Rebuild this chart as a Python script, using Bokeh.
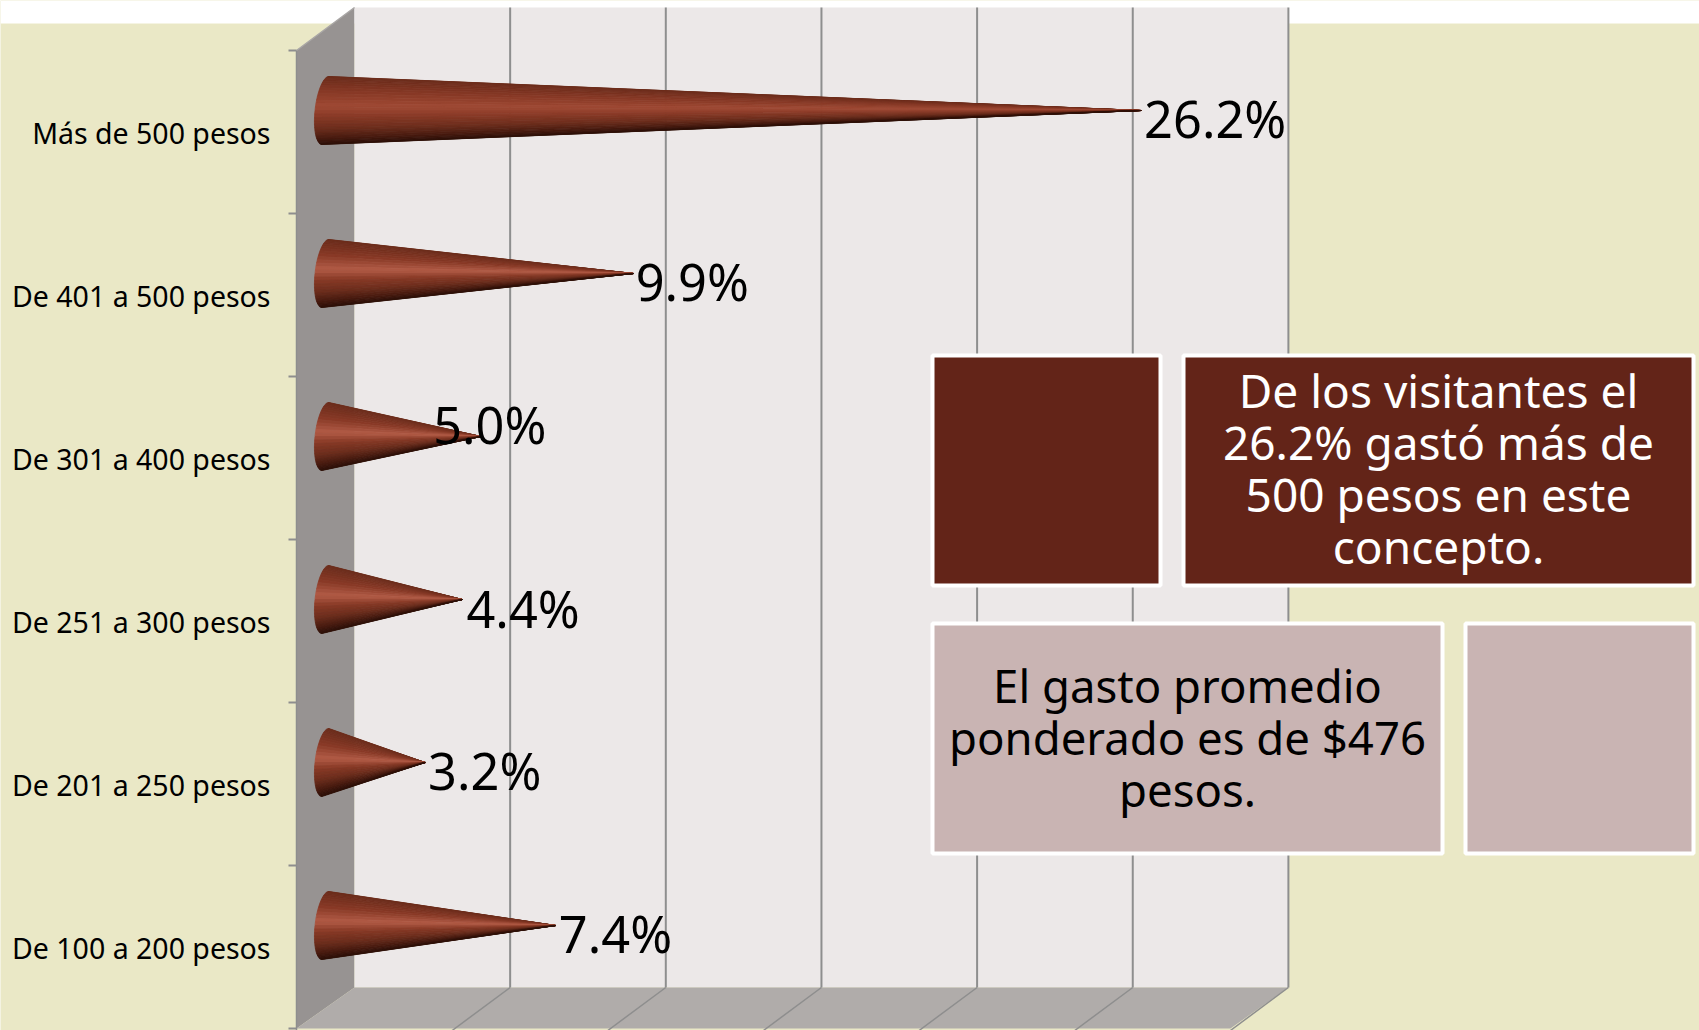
from bokeh.plotting import figure, ColumnDataSource
from bokeh.models import Range1d
from bokeh.core.properties import value
from bokeh.embed import file_html
from bokeh.resources import INLINE
import numpy as np

# ---- data ----
categories = ["De 100 a 200 pesos", "De 201 a 250 pesos", "De 251 a 300 pesos",
              "De 301 a 400 pesos", "De 401 a 500 pesos", "Más de 500 pesos"]
percent = [7.4, 3.2, 4.4, 5.0, 9.9, 26.2]
value_labels = ["7.4%", "3.2%", "4.4%", "5.0%", "9.9%", "26.2%"]
box_dark_lines = ["De los visitantes el", "26.2% gastó más de", "500 pesos en este", "concepto."]
box_light_lines = ["El gasto promedio", "ponderado es de $476", "pesos."]
grid_values = [0, 5, 10, 15, 20, 25, 30]

# ---- layout (page pixels) ----
W, H = 1699, 1030
PX_PER_UNIT = 31.13      # horizontal pixels per percentage point
ZERO_PX = 325            # x of 0 % at mid depth
CAT_PX = 163             # category band height
AXIS_BOTTOM_PX = 1028
DEPTH_X, DEPTH_Y = 58, 41

x0 = -ZERO_PX / PX_PER_UNIT
y0 = (AXIS_BOTTOM_PX - H) / CAT_PX

def X(px):
    return np.asarray(px, float) / PX_PER_UNIT + x0
def Y(py):
    return (AXIS_BOTTOM_PX - np.asarray(py, float)) / CAT_PX

p = figure(width=W, height=H, output_backend="svg", toolbar_location=None,
           x_range=Range1d(x0, x0 + W / PX_PER_UNIT), y_range=Range1d(y0, y0 + H / CAT_PX),
           x_axis_type=None, y_axis_type=None, min_border=0, outline_line_color=None,
           background_fill_color="#eae8c6", border_fill_color="#eae8c6",
           margin=(0, 0, 0, 0))
p.grid.visible = False

def rect(l, t, r, b, fill, line=None, lw=0):
    p.patch(X([l, r, r, l]), Y([t, t, b, b]), fill_color=fill, line_color=line, line_width=lw)

FONT = value("Noto Sans")

# white band on top
rect(0, 0, W, 23, "#ffffff")

# 3D walls
back_l_px = ZERO_PX + DEPTH_X / 2
front_l_px = back_l_px - DEPTH_X
wall_top, wall_bot = 7, 987
back_r_px = ZERO_PX + 30 * PX_PER_UNIT + DEPTH_X / 2
p.patch(X([front_l_px, back_l_px, back_l_px, front_l_px]), Y([50, wall_top, wall_bot, AXIS_BOTTOM_PX]),
        fill_color="#979392", line_color=None)
rect(back_l_px, wall_top, back_r_px, wall_bot, "#ece8e8")
p.patch(X([front_l_px, back_l_px, back_r_px, back_r_px - DEPTH_X]),
        Y([AXIS_BOTTOM_PX, wall_bot, wall_bot, AXIS_BOTTOM_PX]),
        fill_color="#b0acaa", line_color=None)

# gridlines on back wall + floor
GRID = "#8e8e8e"
for g in grid_values:
    gx = (g - x0) * PX_PER_UNIT + DEPTH_X / 2
    if g:
        p.line(X([gx, gx]), Y([wall_top, wall_bot]), line_color=GRID, line_width=2)
        p.line(X([gx, gx - DEPTH_X]), Y([wall_bot, AXIS_BOTTOM_PX + 2]), line_color=GRID, line_width=1.5)

# left edge of the side wall & category ticks
p.line(X([front_l_px, front_l_px]), Y([50, H]), line_color=GRID, line_width=1.5)
p.line(X([front_l_px, back_l_px]), Y([50, wall_top]), line_color="#a9a6a5", line_width=1.5)
for i in range(len(categories) + 1):
    p.line(X([front_l_px - 8, front_l_px]), [i, i], line_color=GRID, line_width=2)

# category labels
p.text(X([270] * len(categories)), [i + 0.5 for i in range(len(categories))], text=categories,
       text_font=FONT, text_font_size="28.5px", text_color="#000000",
       text_align="right", text_baseline="middle", y_offset=1)

# cones
STOPS_T = [-1.0, -0.55, -0.12, 0.2, 0.55, 0.85, 1.0]
def hexrgb(h):
    return np.array([int(h[i:i + 2], 16) for i in (1, 3, 5)], float)
def shade(t, mid):
    cols = ["#6b2c1b", "#883926", mid, "#883926", "#6c2d1c", "#46190f", "#2e1008"]
    arr = np.array([hexrgb(c) for c in cols])
    rgb = [np.interp(t, STOPS_T, arr[:, k]) for k in range(3)]
    return "#%02x%02x%02x" % tuple(int(round(v)) for v in rgb)

A_PX, B_PX, TILT_PX = 10.5, 34, 3.5
N = 30
for i, v in enumerate(percent):
    cy_px = AXIS_BOTTOM_PX - (i + 0.5) * CAT_PX - DEPTH_Y / 2 - 1
    tip_x = v
    tip_y = float(Y(cy_px))
    mid = "#b25b46" if v < 20 else "#9f4934"
    thetas = np.linspace(-np.pi / 2, np.pi / 2, N + 1)
    bx = ZERO_PX - A_PX * np.cos(thetas) - TILT_PX * np.sin(thetas)
    by = cy_px + B_PX * np.sin(thetas)
    xs, ys, cols = [], [], []
    for k in range(N):
        xs.append([float(X(bx[k])), float(X(bx[k + 1])), tip_x])
        ys.append([float(Y(by[k])), float(Y(by[k + 1])), tip_y])
        cols.append(shade(np.sin((thetas[k] + thetas[k + 1]) / 2), mid))
    # Overlapping strokes hide the anti-aliased seams between strips
    p.patches(xs, ys, fill_color=cols, line_color=cols, line_width=0.8, line_join="round")

# value labels: offsets in px; cone centre sits half a depth above the band centre
label_dx = [3, 3, 4, -48, 2, 3]
label_dy = [7, 7, 8, -13, 7, 7]
src = ColumnDataSource(dict(
    x=percent, y=[i + 0.5 for i in range(6)], t=value_labels,
    dx=label_dx, dy=[d - DEPTH_Y / 2 for d in label_dy]))
p.text("x", "y", text="t", source=src, x_offset="dx", y_offset="dy",
       text_font=FONT, text_font_size="50.5px", text_color="#000000",
       text_align="left", text_baseline="middle")

# text boxes
def box(l, t, r, b, fill):
    rect(l + 2, t + 2, r - 2, b - 2, fill, "#ffffff", 4)

DARK, LIGHT = "#632418", "#c9b4b3"
box(930, 353, 1162, 587, DARK)
box(1181, 353, 1695, 587, DARK)
box(930, 621, 1444, 855, LIGHT)
box(1463, 621, 1695, 855, LIGHT)

p.text(X([1438] * 4), Y([389, 441, 493, 545]), text=box_dark_lines, text_font=FONT,
       text_font_size="46px", text_color="#ffffff", text_align="center", text_baseline="middle")
p.text(X([1187] * 3), Y([684, 736, 788]), text=box_light_lines, text_font=FONT,
       text_font_size="45.5px", text_color="#000000", text_align="center", text_baseline="middle")

open("out.html", "w").write(file_html(p, INLINE))
